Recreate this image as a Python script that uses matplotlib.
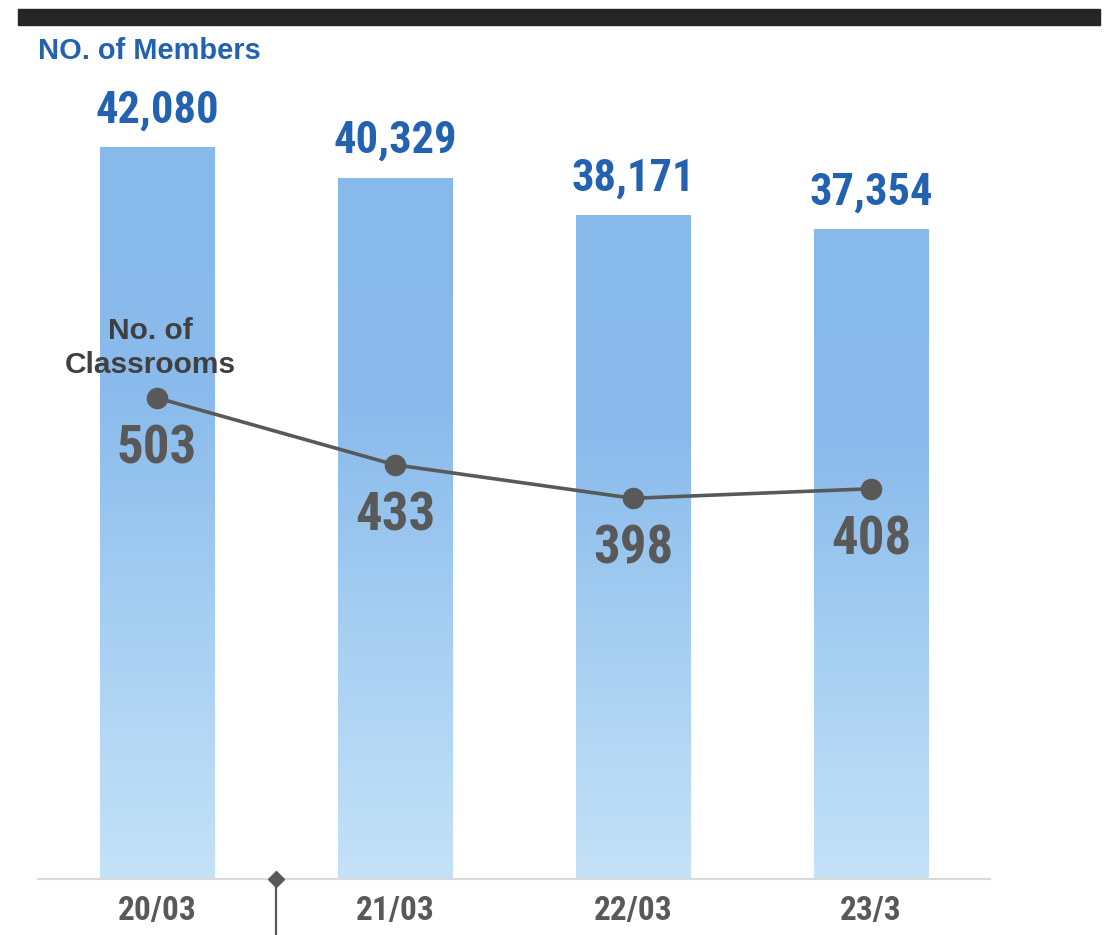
import matplotlib
matplotlib.use("Agg")
import matplotlib.pyplot as plt
import numpy as np
from matplotlib import font_manager
from matplotlib.patches import Rectangle
from matplotlib.colors import LinearSegmentedColormap

# ---- data ----
periods = ["20/03", "21/03", "22/03", "23/3"]
members = [42080, 40329, 38171, 37354]
classrooms = [503, 433, 398, 408]

# ---- fonts ----
available = {f.name for f in font_manager.fontManager.ttflist}
def pick(*names):
    for n in names:
        if n in available:
            return n
    return "DejaVu Sans"

NARROW = pick("Roboto Condensed", "Liberation Sans Narrow", "Open Sans Condensed", "DejaVu Sans")
PLAIN = pick("Liberation Sans", "Arial", "DejaVu Sans")

BLUE = "#2262B0"
GREY = "#595959"
DARK = "#404040"

fig = plt.figure(figsize=(11.1, 9.35), dpi=100)
W, H = 1110, 935

# header band
fig.patches.append(Rectangle((18 / W, 1 - 25 / H), (1100 - 18) / W, 16 / H,
                             transform=fig.transFigure, color="#262626", zorder=0))
fig.text(38 / W, 1 - 59 / H, "NO. of Members", family=PLAIN, weight="bold",
         fontsize=20.9, color=BLUE, va="baseline", ha="left")

ax = fig.add_axes([38 / W, (H - 879) / H, (990 - 38) / W, (879 - 100) / H])
ax2 = ax.twinx()

x = np.arange(len(periods))
bar_w = 0.48
top_members = 779 * 57.5
ax.set_xlim(-0.5, 3.5)
ax.set_ylim(0, top_members)
ax2.set_ylim(0, top_members / 55.0)

# gradient-filled bars
cmap = LinearSegmentedColormap.from_list("barfade", ["#C4E2F8", "#A8D0F2", "#8ABBEC", "#88B9EB"])
grad = np.linspace(0, 1, 256).reshape(-1, 1)
bars = ax.bar(x, members, width=bar_w, color="none", edgecolor="none", zorder=2)
for b in bars:
    x0, w, h = b.get_x(), b.get_width(), b.get_height()
    im = ax.imshow(grad, cmap=cmap, aspect="auto", origin="lower",
                   extent=(x0, x0 + w, 0, h), zorder=1)
    im.set_clip_path(b)

for xi, v in zip(x, members):
    ax.annotate(f"{v:,}", xy=(xi, v), xytext=(0, 26.6), textcoords="offset points",
                ha="center", va="center", family=NARROW, weight="bold",
                fontsize=32, color=BLUE)

# classroom line
ax2.plot(x, classrooms, color=GREY, lw=2.6, marker="o", markersize=14.5,
         markerfacecolor=GREY, markeredgecolor=GREY, zorder=5)
for xi, v in zip(x, classrooms):
    ax2.annotate(f"{v}", xy=(xi, v), xytext=(0, -36.7), textcoords="offset points",
                 ha="center", va="center", family=NARROW, weight="bold",
                 fontsize=38, color=GREY)
ax2.annotate("No. of\nClassrooms", xy=(x[0], classrooms[0]), xytext=(-5, 36),
             textcoords="offset points", ha="center", va="center", family=PLAIN,
             weight="bold", fontsize=21.5, color=DARK, linespacing=1.28)

# axes styling
for a in (ax, ax2):
    for s in ("top", "right", "left"):
        a.spines[s].set_visible(False)
    a.set_yticks([])
ax2.spines["bottom"].set_visible(False)
ax.spines["bottom"].set_color("#D9D9D9")
ax.spines["bottom"].set_linewidth(1.6)
ax.set_xticks(x)
ax.set_xticklabels(periods, family=NARROW, weight="bold", fontsize=24, color=GREY)
ax.tick_params(axis="x", length=0, pad=11.5)

# divider marker between first and second period
ax.plot([0.5, 0.5], [0, -60 * 57.5], color=GREY, lw=1.6, clip_on=False, zorder=6)
ax.plot([0.5], [0], marker="D", markersize=8, color=GREY, clip_on=False, zorder=7)

fig.savefig("out.png", dpi=100)
